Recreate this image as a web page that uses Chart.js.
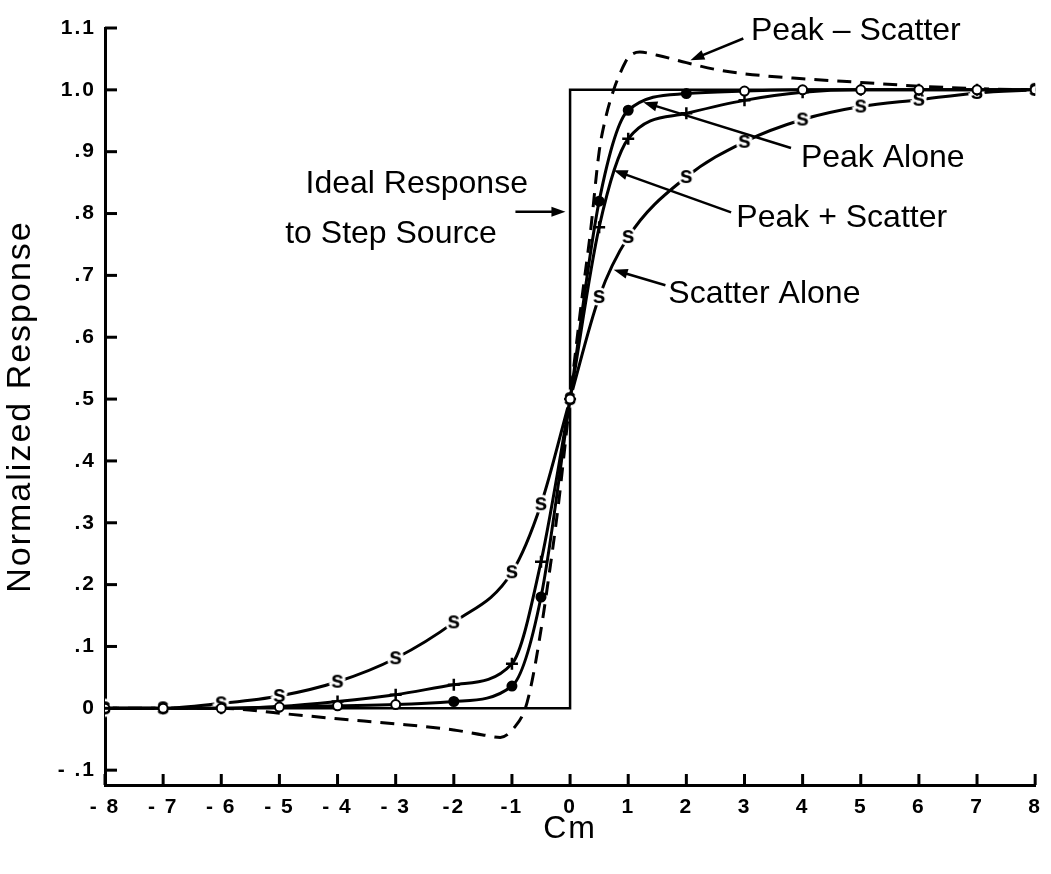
<!DOCTYPE html>
<html>
<head>
<meta charset="utf-8">
<script src="https://cdn.jsdelivr.net/npm/chart.js@4.4.1/dist/chart.umd.min.js"></script>
<style>
  html, body { margin: 0; padding: 0; background: #fff; }
  #wrap { width: 1051px; height: 874px; }
</style>
</head>
<body>
<div id="wrap"><canvas id="resp" width="1051" height="874"></canvas></div>
<script>
// position along the source edge (cm) where the marked curves were sampled
var xPts = [-8, -7, -6, -5, -4, -3, -2, -1, -0.5, 0, 0.5, 1, 2, 3, 4, 5, 6, 7, 8];
var peakAlone    = [0, 0, 0, 0.002, 0.004, 0.006, 0.011, 0.036, 0.18, 0.5, 0.82, 0.967, 0.994, 0.998, 1.0, 1.0, 1.0, 1.0, 1.0];
var peakScatter  = [0, 0, 0, 0.003, 0.011, 0.022, 0.038, 0.072, 0.237, 0.5, 0.778, 0.921, 0.962, 0.983, 0.996, 1.0, 1.0, 1.0, 1.0];
var scatterAlone = [0, 0, 0.008, 0.02, 0.043, 0.081, 0.139, 0.22, 0.33, 0.5, 0.665, 0.762, 0.859, 0.916, 0.952, 0.973, 0.984, 0.995, 1.0];

// peak minus scatter (dashed, no symbols)
var diffX = [-8, -6, -5, -4, -3, -2, -1.5, -1.2, -0.95, -0.77, -0.65, -0.5, -0.4, -0.2, 0, 0.2, 0.35, 0.5, 0.6, 0.75, 0.9, 1.0, 1.2, 1.5, 2, 2.5, 3, 4, 5, 6, 7, 8];
var peakMinusScatter = [0, 0, -0.008, -0.017, -0.025, -0.035, -0.043, -0.047, -0.03, 0, 0.046, 0.127, 0.19, 0.33, 0.5, 0.66, 0.77, 0.9, 0.95, 1.0, 1.035, 1.052, 1.061, 1.056, 1.044, 1.033, 1.026, 1.018, 1.012, 1.006, 1.002, 1.0];

// ideal step
var idealX = [-8, 0, 0, 8];
var idealY = [0, 0, 1, 1];

var xTicks = [-8, -7, -6, -5, -4, -3, -2, -1, 0, 1, 2, 3, 4, 5, 6, 7, 8];
var xTickLabels = ['- 8', '- 7', '- 6', '- 5', '- 4', '- 3', '-2', '-1', '0', '1', '2', '3', '4', '5', '6', '7', '8'];
var yTicks = [-0.1, 0, 0.1, 0.2, 0.3, 0.4, 0.5, 0.6, 0.7, 0.8, 0.9, 1.0, 1.1];
var yTickLabels = ['- .1', '0', '.1', '.2', '.3', '.4', '.5', '.6', '.7', '.8', '.9', '1.0', '1.1'];

var FONT = '"Liberation Sans", Arial, Helvetica, sans-serif';

// callout labels and arrows, in data units
var notes = [
  { lines: [{ text: 'Peak \u2013 Scatter', x: 3.11, y: 1.080 }], from: [2.98, 1.083], to: [2.07, 1.048] },
  { lines: [{ text: 'Peak Alone', x: 3.97, y: 0.875 }], from: [3.80, 0.906], to: [1.26, 0.980] },
  { lines: [{ text: 'Peak + Scatter', x: 2.86, y: 0.778 }], from: [2.77, 0.802], to: [0.75, 0.870] },
  { lines: [{ text: 'Scatter Alone', x: 1.69, y: 0.655 }], from: [1.64, 0.684], to: [0.75, 0.709] },
  { lines: [{ text: 'Ideal Response', x: -4.55, y: 0.833 }, { text: 'to Step Source', x: -4.90, y: 0.752 }],
    from: [-0.94, 0.803], to: [-0.08, 0.803] }
];

function pairs(xs, ys) {
  return xs.map(function (x, i) { return { x: x, y: ys[i] }; });
}

// "s" symbol for the scatter curve, with a white halo so the line breaks around it
function letterMark(ch) {
  var c = document.createElement('canvas');
  c.width = 22; c.height = 24;
  var g = c.getContext('2d');
  g.font = 'bold 23px ' + FONT;
  g.textAlign = 'center';
  g.textBaseline = 'middle';
  g.lineWidth = 5;
  g.strokeStyle = '#fff';
  g.strokeText(ch, 11, 12);
  g.fillStyle = '#000';
  g.fillText(ch, 11, 12);
  return c;
}

// axis numbers and titles are set a little open
var spacedAxes = {
  id: 'spacedAxes',
  beforeDraw: function (chart) { chart.ctx.letterSpacing = '2px'; },
  beforeDatasetsDraw: function (chart) { chart.ctx.letterSpacing = '0px'; }
};

var inwardTicks = {
  id: 'inwardTicks',
  afterDraw: function (chart) {
    var ctx = chart.ctx, sx = chart.scales.x, sy = chart.scales.y, a = chart.chartArea;
    ctx.save();
    ctx.strokeStyle = '#000';
    ctx.lineWidth = 3;
    sx.ticks.forEach(function (t) {
      var px = sx.getPixelForValue(t.value);
      ctx.beginPath(); ctx.moveTo(px, a.bottom); ctx.lineTo(px, a.bottom - 11); ctx.stroke();
    });
    sy.ticks.forEach(function (t) {
      var py = sy.getPixelForValue(t.value);
      ctx.beginPath(); ctx.moveTo(a.left, py); ctx.lineTo(a.left + 12, py); ctx.stroke();
    });
    ctx.restore();
  }
};

var callouts = {
  id: 'callouts',
  afterDraw: function (chart) {
    var ctx = chart.ctx, sx = chart.scales.x, sy = chart.scales.y;
    ctx.save();
    ctx.letterSpacing = '0px';
    ctx.fillStyle = '#000';
    ctx.strokeStyle = '#000';
    ctx.font = '32px ' + FONT;
    ctx.textAlign = 'left';
    ctx.textBaseline = 'alphabetic';
    notes.forEach(function (n) {
      n.lines.forEach(function (l) {
        ctx.fillText(l.text, sx.getPixelForValue(l.x), sy.getPixelForValue(l.y));
      });
      var x0 = sx.getPixelForValue(n.from[0]), y0 = sy.getPixelForValue(n.from[1]);
      var x1 = sx.getPixelForValue(n.to[0]), y1 = sy.getPixelForValue(n.to[1]);
      var ang = Math.atan2(y1 - y0, x1 - x0);
      ctx.lineWidth = 2.5;
      ctx.beginPath(); ctx.moveTo(x0, y0);
      ctx.lineTo(x1 - 10 * Math.cos(ang), y1 - 10 * Math.sin(ang));
      ctx.stroke();
      ctx.beginPath();
      ctx.moveTo(x1, y1);
      ctx.lineTo(x1 - 14 * Math.cos(ang) + 5 * Math.sin(ang), y1 - 14 * Math.sin(ang) - 5 * Math.cos(ang));
      ctx.lineTo(x1 - 14 * Math.cos(ang) - 5 * Math.sin(ang), y1 - 14 * Math.sin(ang) + 5 * Math.cos(ang));
      ctx.closePath();
      ctx.fill();
    });
    ctx.restore();
  }
};

var sMark = letterMark('s');

new Chart(document.getElementById('resp'), {
  type: 'line',
  data: {
    datasets: [
      {
        label: 'Peak Alone',
        data: pairs(xPts, peakAlone),
        borderColor: '#000',
        borderWidth: 3,
        cubicInterpolationMode: 'monotone',
        pointStyle: 'circle',
        pointRadius: 4.5,
        pointBorderWidth: 2,
        pointBorderColor: '#000',
        pointBackgroundColor: function (c) {
          return c.raw && Math.abs(c.raw.x) <= 2 && c.raw.x !== 0 ? '#000' : '#fff';
        }
      },
      {
        label: 'Peak + Scatter',
        data: pairs(xPts, peakScatter),
        borderColor: '#000',
        borderWidth: 3,
        cubicInterpolationMode: 'monotone',
        pointStyle: 'cross',
        pointRadius: 6,
        pointBorderWidth: 2.5,
        pointBorderColor: '#000'
      },
      {
        label: 'Scatter Alone',
        data: pairs(xPts, scatterAlone),
        borderColor: '#000',
        borderWidth: 3,
        cubicInterpolationMode: 'monotone',
        pointStyle: sMark,
        pointRadius: 9
      },
      {
        label: 'Peak - Scatter',
        data: pairs(diffX, peakMinusScatter),
        borderColor: '#000',
        borderWidth: 3,
        borderDash: [14, 9],
        cubicInterpolationMode: 'monotone',
        pointRadius: 0
      },
      {
        label: 'Ideal Response to Step Source',
        data: pairs(idealX, idealY),
        borderColor: '#000',
        borderWidth: 2.5,
        tension: 0,
        pointRadius: 0
      }
    ]
  },
  options: {
    responsive: false,
    animation: false,
    events: [],
    layout: { padding: { top: 28, right: 13, left: 0, bottom: 0 } },
    plugins: {
      legend: { display: false },
      tooltip: { enabled: false }
    },
    scales: {
      x: {
        type: 'linear',
        min: -8,
        max: 8,
        afterBuildTicks: function (s) { s.ticks = xTicks.map(function (v) { return { value: v }; }); },
        afterFit: function (s) { s.height = 89; },
        grid: { display: false, drawTicks: false },
        border: { display: true, color: '#000', width: 3 },
        ticks: {
          padding: 10,
          maxRotation: 0,
          autoSkip: false,
          color: '#000',
          font: { family: FONT, size: 21, weight: 'bold' },
          callback: function (v) { var i = xTicks.indexOf(v); return i < 0 ? '' : xTickLabels[i]; }
        },
        title: {
          display: true,
          text: 'Cm',
          color: '#000',
          font: { family: FONT, size: 32 },
          padding: { top: 0, bottom: 26 }
        }
      },
      y: {
        type: 'linear',
        min: -0.124,
        max: 1.1,
        afterBuildTicks: function (s) { s.ticks = yTicks.map(function (v) { return { value: v }; }); },
        afterFit: function (s) { s.width = 105; },
        grid: { display: false, drawTicks: false },
        border: { display: true, color: '#000', width: 3 },
        ticks: {
          padding: 9,
          autoSkip: false,
          color: '#000',
          font: { family: FONT, size: 21, weight: 'bold' },
          callback: function (v) {
            for (var i = 0; i < yTicks.length; i++) {
              if (Math.abs(yTicks[i] - v) < 1e-6) return yTickLabels[i];
            }
            return '';
          }
        },
        title: {
          display: true,
          text: 'Normalized Response',
          color: '#000',
          font: { family: FONT, size: 34 },
          padding: { top: 0, bottom: 0 }
        }
      }
    }
  },
  plugins: [spacedAxes, inwardTicks, callouts]
});
</script>
</body>
</html>
